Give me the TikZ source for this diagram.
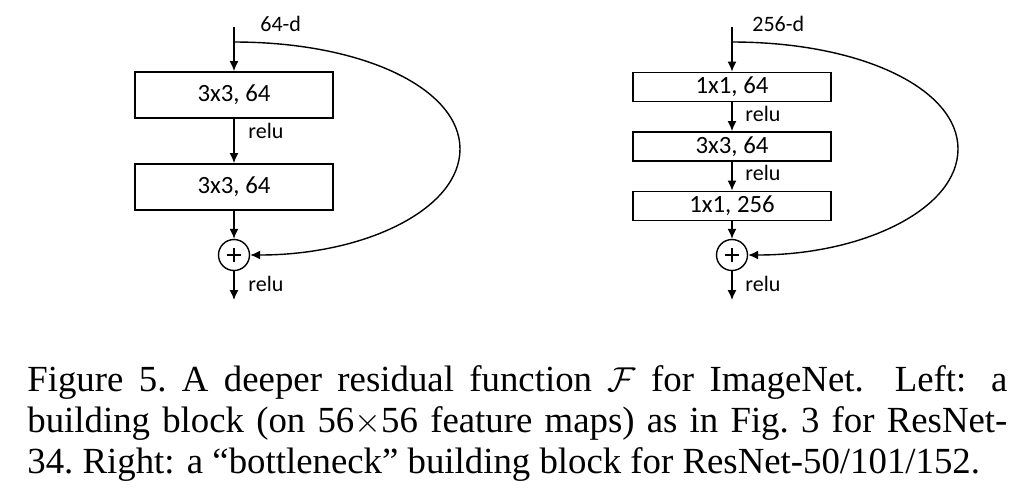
\documentclass[tikz,border=0pt]{standalone}
\usepackage{fontspec}
\setmainfont{Liberation Serif}
\newfontfamily\blockfont{Carlito}
\usetikzlibrary{arrows.meta}

\tikzset{
	conv/.style={draw, line width=0.9pt, minimum width=99pt, inner sep=0pt, font=\blockfont\fontsize{12.4}{14}\selectfont},
	flow/.style={line width=0.7pt, -{Latex[length=5pt,width=4.5pt]}},
	lbl/.style={inner sep=0pt, anchor=west, font=\blockfont\fontsize{11}{13}\selectfont},
	addop/.style={draw, circle, line width=0.7pt, minimum size=15.5pt, inner sep=0pt,
		path picture={
			\draw[line width=0.7pt] ([xshift=-3.7pt]path picture bounding box.center) -- ([xshift=3.7pt]path picture bounding box.center);
			\draw[line width=0.7pt] ([yshift=-3.7pt]path picture bounding box.center) -- ([yshift=3.7pt]path picture bounding box.center);
		}}
}

\begin{document}
\begin{tikzpicture}[x=0.5pt,y=-0.5pt]
	%%%%% START %%%%%
	\def\xl{234}
	\def\xr{732}
	\def\ytop{27}
	\def\ysplit{42}
	\def\yadd{255}
	\def\yout{300}
	\def\xfar{226}

	\useasboundingbox (0,0) rectangle (1022,495);

	% left: building block
	\coordinate (inL) at (\xl,\ytop);
	\coordinate (splitL) at (\xl,\ysplit);
	\coordinate (farL) at (\xl+\xfar,149);
	\coordinate (outL) at (\xl,\yout);
	\node[lbl] (dimL) at (260,23.5) {64-d};
	\node[conv, minimum height=23pt] (convLa) at (\xl,95) {3x3, 64};
	\node[conv, minimum height=23pt] (convLb) at (\xl,187) {3x3, 64};
	\node[addop] (addL) at (\xl,\yadd) {};
	\node[lbl] (reluLa) at (\xl+14,131) {relu};
	\node[lbl] (reluLb) at (\xl+14,283.5) {relu};

	\draw[flow] (inL) -- (convLa.north);
	\draw[flow] (convLa.south) -- (convLb.north);
	\draw[flow] (convLb.south) -- (addL.north);
	\draw[flow] (addL.south) -- (outL);
	\draw[flow] (splitL) .. controls +(130,0) and +(0,-60) .. (farL) .. controls +(0,60) and +(115,0) .. (addL.east);

	% right: bottleneck block
	\coordinate (inR) at (\xr,\ytop);
	\coordinate (splitR) at (\xr,\ysplit);
	\coordinate (farR) at (\xr+\xfar,149);
	\coordinate (outR) at (\xr,\yout);
	\node[lbl] (dimR) at (752,24) {256-d};
	\node[conv, minimum height=14.5pt] (convRa) at (\xr,87) {1x1, 64};
	\node[conv, minimum height=14.5pt] (convRb) at (\xr,146.5) {3x3, 64};
	\node[conv, minimum height=14.5pt] (convRc) at (\xr,206) {1x1, 256};
	\node[addop] (addR) at (\xr,\yadd) {};
	\node[lbl] (reluRa) at (\xr+13,113.5) {relu};
	\node[lbl] (reluRb) at (\xr+13,172.5) {relu};
	\node[lbl] (reluRc) at (\xr+13,283.5) {relu};

	\draw[flow] (inR) -- (convRa.north);
	\draw[flow] (convRa.south) -- (convRb.north);
	\draw[flow] (convRb.south) -- (convRc.north);
	\draw[flow] (convRc.south) -- (addR.north);
	\draw[flow] (addR.south) -- (outR);
	\draw[flow] (splitR) .. controls +(130,0) and +(0,-60) .. (farR) .. controls +(0,60) and +(115,0) .. (addR.east);

	% caption
	\node[anchor=base west, inner sep=0pt, text width=490pt, align=justify, font=\fontsize{18.4}{20.5}\selectfont] (caption) at (27,391)
		{Figure 5.\ A deeper residual function $\mathcal{F}$ for ImageNet.  Left: a\linebreak building block (on 56$\times$56 feature maps) as in Fig.~3 for ResNet-\linebreak 34.\ Right: a “bottleneck” building block for ResNet-50/101/152.};
	%%%%% END %%%%%
\end{tikzpicture}
\end{document}
